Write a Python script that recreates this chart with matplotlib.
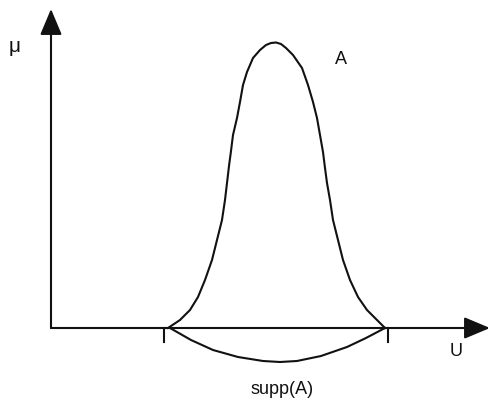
import matplotlib
matplotlib.use("Agg")
import matplotlib.pyplot as plt

# membership curve of A (pixel-like units, origin at the axes corner)
u = [117, 129, 139, 147, 154, 161, 166, 171, 174, 176, 178, 180, 182, 186, 189,
     192, 196, 202, 209, 215, 220, 225, 230, 235, 242, 251, 257, 262, 266, 269, 272,
     274, 276, 279, 282, 287, 292, 299, 307, 316, 326, 334]
mu = [0, 8, 18, 31, 48, 68, 88, 108, 128, 145, 162, 177, 193, 210, 226,
      243, 256, 270, 278, 283, 285, 285.5, 284, 280, 273, 260, 243, 226, 210, 193, 176,
      160, 145, 128, 108, 88, 68, 48, 31, 18, 8, 0]

# brace under the support
brace_u = [119, 140, 162, 187, 212, 229, 246, 270, 296, 315, 334]
brace_y = [0, -12, -22, -29, -33, -34, -33, -28, -19, -10, 0]

supp_ends = [113, 337]

plt.rcParams['font.family'] = ['Liberation Sans', 'DejaVu Sans']
fig = plt.figure(figsize=(4.88, 4.09), dpi=100)
ax = fig.add_axes([0, 0, 1, 1])
ax.set_xlim(-51, 437)
ax.set_ylim(-81, 328)
ax.axis('off')

col = '#111111'
lw = 1.5

# axes with arrow heads
arrow = dict(arrowstyle='-|>,head_length=1.0,head_width=0.42', mutation_scale=16,
             lw=lw, color=col, shrinkA=0, shrinkB=0)
ax.annotate('', xy=(0, 319), xytext=(0, 0), arrowprops=arrow, annotation_clip=False)
ax.annotate('', xy=(439, 0), xytext=(0, 0), arrowprops=arrow, annotation_clip=False)

ax.plot(u, mu, color=col, lw=lw, solid_joinstyle='round')
ax.plot(brace_u, brace_y, color=col, lw=lw, solid_joinstyle='round')
for x in supp_ends:
    ax.plot([x, x], [0, -14], color=col, lw=lw)

ax.text(-36, 282, 'μ', fontsize=15, ha='center', va='center', color=col)
ax.text(290, 268, 'A', fontsize=13, ha='center', va='center', color=col)
ax.text(405, -24, 'U', fontsize=13, ha='center', va='center', color=col)
ax.text(231, -62, 'supp(A)', fontsize=13, ha='center', va='center', color=col)

fig.savefig('out.png', dpi=100)
